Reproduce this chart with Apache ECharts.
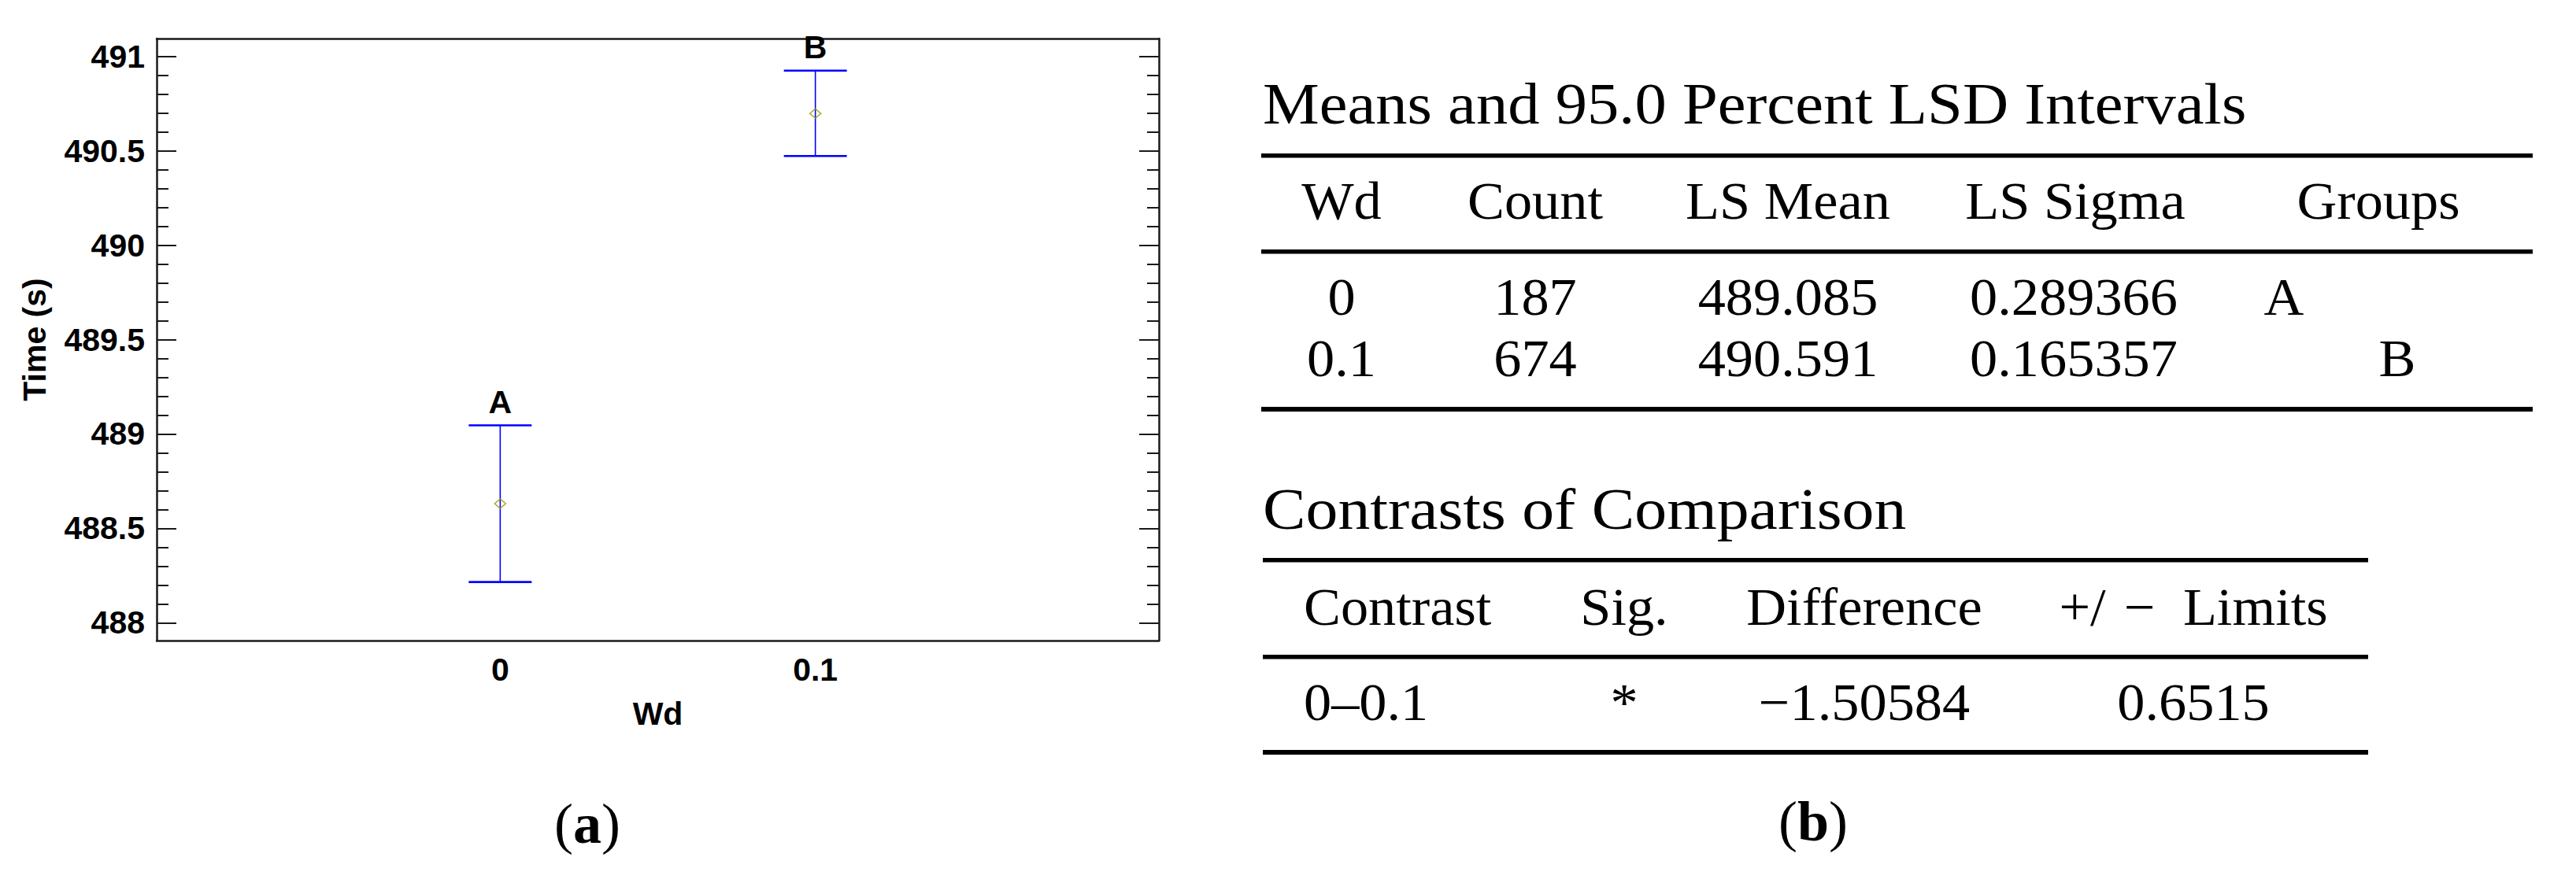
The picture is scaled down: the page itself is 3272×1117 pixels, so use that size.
<!DOCTYPE html>
<html><head><meta charset="utf-8">
<script src="https://cdn.jsdelivr.net/npm/echarts@6/dist/echarts.min.js"></script>
<style>html,body{margin:0;padding:0;background:#fff}#c{width:3272px;height:1117px}</style>
</head><body><div id="c"></div><script>
// ---- chart data ----
const wdValues = [0, 0.1];
const groups = ['A', 'B'];
const lowerValues = [488.216, 490.472];
const meanValues = [488.631, 490.697];
const upperValues = [489.046, 490.924];
const yMajorTicks = [488, 488.5, 489, 489.5, 490, 490.5, 491];
const yMinorTicks = [488.1, 488.2, 488.3, 488.4, 488.6, 488.7, 488.8, 488.9,
  489.1, 489.2, 489.3, 489.4, 489.6, 489.7, 489.8, 489.9,
  490.1, 490.2, 490.3, 490.4, 490.6, 490.7, 490.8, 490.9];
const xTickLabels = [0, 0.1];
const yRange = [487.906, 491.094];
const xRange = [-0.109, 0.209];

// ---- table data ----
const meansTitle = 'Means and 95.0 Percent LSD Intervals';
const meansHeader = ['Wd', 'Count', 'LS Mean', 'LS Sigma', 'Groups'];
const meansWd = ['0', '0.1'];
const meansCount = ['187', '674'];
const meansLSMean = ['489.085', '490.591'];
const meansLSSigma = ['0.289366', '0.165357'];
const meansGroups = ['A', 'B'];
const contrastTitle = 'Contrasts of Comparison';
const contrastHeader = ['Contrast', 'Sig.', 'Difference', '+/\u2004\u2212\u2002Limits'];
const contrastRow = ['0\u20130.1', '*', '\u22121.50584', '0.6515'];

const SANS = '"Liberation Sans", Arial, sans-serif';
const SERIF = '"Liberation Serif", "Times New Roman", serif';
const AX = '#1a1a1a';

const chart = echarts.init(document.getElementById('c'), null, {renderer: 'svg', width: 3272, height: 1117});

function txt(text, x, y, size, align, sx) {
  return {type: 'text', x: x, y: y, scaleX: sx || 1.05, silent: true,
    style: {text: text, font: size + 'px ' + SERIF, fill: '#000', align: align || 'center', verticalAlign: 'middle'}};
}
function rule(x, y, w, h) {
  return {type: 'rect', silent: true, shape: {x: x, y: y, width: w, height: h}, style: {fill: '#000'}};
}

const graphics = [];
// Means table
graphics.push(txt(meansTitle, 1604, 132, 75, 'left', 1.075));
graphics.push(rule(1602, 195, 1615, 5.5));
graphics.push(rule(1602, 317, 1615, 5.5));
graphics.push(rule(1602, 517, 1615, 6));
const mCols = [1704, 1950, 2271, 2636, 3021];
meansHeader.forEach((h, i) => graphics.push(txt(h, mCols[i], 256, 67)));
const rowY = [378, 456];
const grpX = [2901, 3045];
for (let r = 0; r < 2; r++) {
  graphics.push(txt(meansWd[r], mCols[0], rowY[r], 67));
  graphics.push(txt(meansCount[r], mCols[1], rowY[r], 67));
  graphics.push(txt(meansLSMean[r], mCols[2], rowY[r], 67));
  graphics.push(txt(meansLSSigma[r], mCols[3] - 2, rowY[r], 67));
  graphics.push(txt(meansGroups[r], grpX[r], rowY[r], 67));
}
// Contrasts table
graphics.push(txt(contrastTitle, 1604, 647, 75, 'left', 1.09));
graphics.push(rule(1604, 709, 1404, 5.5));
graphics.push(rule(1604, 832, 1404, 5.5));
graphics.push(rule(1604, 953, 1404, 6));
const cCols = [1656, 2063, 2368, 2786];
contrastHeader.forEach((h, i) => graphics.push(txt(h, cCols[i], 772, 67, i === 0 ? 'left' : 'center')));
contrastRow.forEach((h, i) => graphics.push(txt(h, cCols[i], 893, 67, i === 0 ? 'left' : 'center')));
// Captions
function caption(letter, x, y) {
  return {type: 'text', x: x, y: y, silent: true,
    style: {text: '({b|' + letter + '})', font: '72px ' + SERIF, fill: '#000', align: 'center', verticalAlign: 'middle',
      rich: {b: {fontWeight: 'bold', fontSize: 72, fontFamily: SERIF}}}};
}
graphics.push(caption('a', 746, 1047));
graphics.push(caption('b', 2303, 1044));

function yAxisDef(pos, ticks, len, labels, lineShow) {
  return {
    type: 'value', position: pos, min: yRange[0], max: yRange[1], gridIndex: 0,
    splitLine: {show: false},
    axisLine: {show: lineShow, onZero: false, lineStyle: {color: AX, width: 2.5}},
    axisTick: {show: true, inside: true, length: len, customValues: ticks, lineStyle: {color: AX, width: 2}},
    axisLabel: labels ? {show: true, customValues: yMajorTicks, margin: 15, color: '#000',
      fontFamily: SANS, fontWeight: 'bold', fontSize: 41} : {show: false},
    name: labels ? 'Time (s)' : '', nameLocation: 'middle', nameGap: 135,
    nameTextStyle: {fontFamily: SANS, fontWeight: 'bold', fontSize: 41, color: '#000'}
  };
}

const option = {
  backgroundColor: '#fff',
  animation: false,
  grid: {left: 199, top: 49, width: 1273, height: 765, containLabel: false},
  xAxis: [
    {type: 'value', position: 'bottom', min: xRange[0], max: xRange[1], splitLine: {show: false},
      axisLine: {show: true, onZero: false, lineStyle: {color: AX, width: 2.5}},
      axisTick: {show: false},
      axisLabel: {customValues: xTickLabels, margin: 16, color: '#000', fontFamily: SANS, fontWeight: 'bold', fontSize: 41},
      name: 'Wd', nameLocation: 'middle', nameGap: 72,
      nameTextStyle: {fontFamily: SANS, fontWeight: 'bold', fontSize: 41, color: '#000'}},
    {type: 'value', position: 'top', min: xRange[0], max: xRange[1], splitLine: {show: false},
      axisLine: {show: true, onZero: false, lineStyle: {color: AX, width: 2.5}},
      axisTick: {show: false}, axisLabel: {show: false}}
  ],
  yAxis: [
    yAxisDef('left', yMajorTicks, 25, true, true),
    yAxisDef('left', yMinorTicks, 15, false, false),
    yAxisDef('right', yMajorTicks, 25, false, true),
    yAxisDef('right', yMinorTicks, 15, false, false)
  ],
  series: [
    {
      type: 'custom', xAxisIndex: 0, yAxisIndex: 0, z: 2,
      data: wdValues.map((w, i) => [w, lowerValues[i], upperValues[i]]),
      renderItem: function (params, api) {
        const x = api.value(0);
        const pLo = api.coord([x, api.value(1)]);
        const pHi = api.coord([x, api.value(2)]);
        const hw = 40;
        const blue = '#0000ff';
        return {type: 'group', children: [
          {type: 'line', shape: {x1: pLo[0], y1: pLo[1], x2: pHi[0], y2: pHi[1]}, style: {stroke: blue, lineWidth: 1.6}},
          {type: 'line', shape: {x1: pLo[0] - hw, y1: pLo[1], x2: pLo[0] + hw, y2: pLo[1]}, style: {stroke: blue, lineWidth: 2.6}},
          {type: 'line', shape: {x1: pHi[0] - hw, y1: pHi[1], x2: pHi[0] + hw, y2: pHi[1]}, style: {stroke: blue, lineWidth: 2.6}},
          {type: 'text', style: {text: groups[params.dataIndex], x: pHi[0], y: pHi[1] - 9,
            align: 'center', verticalAlign: 'bottom', font: 'bold 41px ' + SANS, fill: '#000'}}
        ]};
      }
    },
    {
      type: 'scatter', xAxisIndex: 0, yAxisIndex: 0, z: 3,
      data: wdValues.map((w, i) => [w, meanValues[i]]),
      symbol: 'diamond', symbolSize: [14, 12],
      itemStyle: {color: 'rgba(255,255,255,0)', borderColor: '#999900', borderWidth: 1.6}
    }
  ],
  graphic: graphics
};
chart.setOption(option);
</script></body></html>
